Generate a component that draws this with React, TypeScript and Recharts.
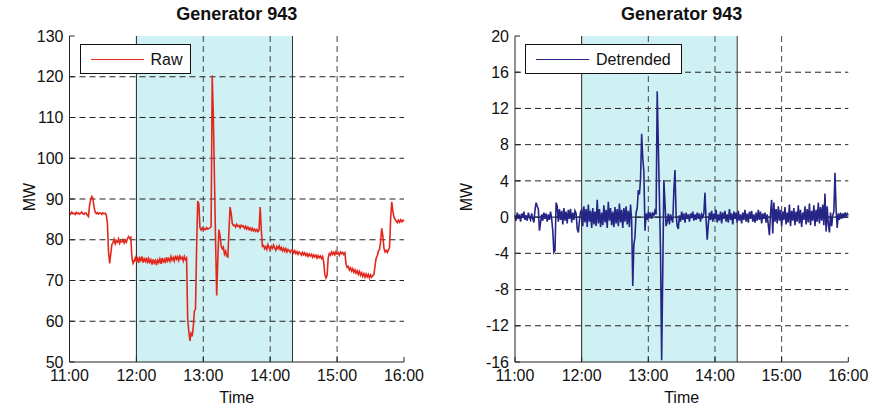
import React from 'react';
import { LineChart, Line, XAxis, YAxis, ReferenceArea, ReferenceLine } from 'recharts';

// minutes after 11:00, one sample per minute
const TIME_TICKS = [0, 60, 120, 180, 240, 300];
const RAW_TICKS = [50, 60, 70, 80, 90, 100, 110, 120, 130];
const DETRENDED_TICKS = [-16, -12, -8, -4, 0, 4, 8, 12, 16, 20];
const SHADE_START = 60; // 12:00
const SHADE_END = 200; // 14:20

const RAW_MW = [
  86.6, 86.3, 86.8, 86.4, 86.5, 86.2, 86.7, 86.4, 86.6, 86.3,
  86.5, 86.8, 86.4, 86.2, 86.6, 86.5, 86.0, 85.7, 88.5, 89.8,
  90.6, 90.2, 88.0, 86.8, 86.4, 86.7, 86.3, 86.6, 86.5, 86.2,
  86.6, 86.4, 86.5, 86.1, 84.0, 77.0, 74.2, 76.5, 78.8, 79.3,
  80.1, 79.0, 79.8, 79.4, 80.2, 79.1, 79.7, 79.5, 80.0, 79.2,
  79.9, 79.4, 80.3, 80.8, 80.4, 80.6, 75.5, 74.2, 74.8, 75.6,
  74.6, 75.8, 74.3, 75.5, 74.9, 75.9, 74.4, 75.3, 74.7, 75.6,
  74.2, 75.4, 74.5, 75.1, 73.9, 75.2, 74.3, 74.9, 73.8, 75.0,
  74.4, 75.3, 74.1, 75.5, 74.6, 75.2, 74.3, 75.7, 74.8, 75.4,
  74.7, 75.9, 75.0, 75.6, 74.8, 76.1, 75.2, 75.8, 74.9, 76.0,
  75.3, 75.7, 74.8, 75.9, 75.1, 75.5, 60.5, 57.5, 55.2, 57.0,
  56.3, 58.5, 62.5, 63.0, 78.0, 89.5, 88.8, 83.0, 82.4, 82.9,
  82.3, 82.7, 82.5, 83.0, 82.6, 82.8, 82.9, 83.2, 120.3, 110.5,
  95.0, 80.0, 66.3, 75.0, 82.5, 81.0, 78.5, 77.8, 78.2, 76.5,
  77.2, 76.0, 75.8, 82.0, 88.0, 86.5, 84.0, 83.5, 83.6, 83.1,
  83.8, 83.3, 83.5, 82.9, 83.6, 83.2, 83.4, 82.8, 83.3, 82.6,
  83.1, 82.5, 82.9, 82.3, 82.8, 82.2, 82.6, 82.1, 82.5, 82.0,
  82.4, 88.0, 82.5, 78.4, 78.6, 77.8, 78.3, 77.6, 78.8, 78.1,
  77.5, 78.4, 77.9, 78.7, 78.0, 77.4, 78.3, 77.8, 78.5, 77.6,
  78.1, 77.3, 77.9, 77.2, 77.8, 77.0, 77.6, 77.3, 76.9, 77.5,
  77.5, 76.8, 77.3, 76.6, 77.1, 76.4, 77.0, 76.7, 76.2, 76.9,
  76.3, 76.8, 76.1, 76.6, 75.9, 76.5, 76.0, 76.4, 75.7, 76.3,
  75.8, 76.2, 75.5, 76.1, 75.6, 76.0, 75.4, 75.9, 74.5, 71.5,
  70.6, 71.2, 75.5, 76.6, 76.2, 77.0, 76.4, 76.9, 76.3, 77.1,
  76.5, 76.8, 76.2, 77.0, 76.6, 76.9, 76.4, 76.8, 74.0, 73.2,
  73.5, 72.6, 73.1, 72.3, 72.9, 72.0, 72.6, 71.8, 72.4, 71.5,
  72.2, 71.3, 71.9, 71.0, 71.7, 70.8, 71.6, 70.9, 71.5, 70.6,
  71.4, 70.8, 71.2, 71.5, 73.5, 75.5, 76.0, 77.2, 77.6, 79.5,
  82.8, 81.0, 78.0, 77.0, 77.4, 76.9, 77.5, 78.0, 85.0, 89.3,
  87.0, 85.6, 85.0, 84.6, 84.2, 84.8, 84.3, 84.9, 84.4, 84.8,
  84.6,
];

const DETRENDED_MW = [
  0.2, -0.4, 0.5, -0.2, 0.3, -0.5, 0.4, -0.1, 0.6, -0.3,
  0.2, -0.4, 0.5, 0.0, -0.3, 0.4, -0.2, -0.6, 0.8, 1.6,
  1.2, 0.9, -1.5, -0.6, 0.3, -0.4, 0.5, -0.2, 0.4, -0.5,
  0.3, -0.3, 0.6, -0.2, -1.5, -3.9, -3.7, 1.6, 1.2, -0.5,
  0.9, -0.3, 0.7, -0.8, 1.0, -0.4, 0.6, -0.7, 0.8, -0.2,
  0.9, -0.6, 0.5, -0.3, 0.7, 0.4, -1.3, -1.7, -0.4, 0.6,
  0.8, -1.0, 1.2, -0.6, 0.9, -1.1, 1.4, -0.5, 0.7, -1.2,
  1.0, -0.8, 0.6, -1.0, 1.9, -0.7, 0.9, -1.1, 0.5, -0.9,
  1.3, -0.6, 0.8, -1.2, 1.7, -0.4, 1.0, -0.9, 0.6, -1.1,
  1.1, -0.7, 0.9, -1.0, 1.5, -0.6, 0.8, -1.2, 1.0, -0.5,
  1.2, -0.8, 0.7, -1.1, 1.4, -0.4, -7.6, -3.0, -2.2, 0.5,
  1.0, 3.0, 2.5, 4.2, 9.2, 6.5, 5.0, -1.5, 0.4, -0.3,
  0.6, 0.1, 0.5, -0.2, 0.4, 0.2, 0.7, 0.3, 13.9, 8.0,
  2.0, -4.0, -15.8, -6.0, 4.1, 1.5, -1.0, -0.5, 0.4, -0.8,
  0.3, -0.2, -0.6, 3.0, 5.2, 0.3, -1.0, -1.3, 0.2, -0.5,
  0.6, -0.3, 0.4, -0.6, 0.5, -0.2, 0.3, -0.5, 0.4, -0.1,
  0.6, -0.4, 0.3, -0.3, 0.5, -0.2, 0.4, -0.5, 0.3, 0.0,
  0.4, 2.7, -0.3, -2.5, -0.8, 0.5, -0.3, 0.7, -0.5, 0.4,
  -0.2, 0.8, -0.6, 0.3, -0.4, 0.6, -0.7, 0.5, -0.2, 0.7,
  -0.5, 0.3, -0.6, 0.9, -0.3, 0.4, -0.8, 0.6, -0.2, 0.5,
  -0.6, 0.7, -0.4, 0.3, -0.7, 0.5, -0.3, 0.8, -0.5, 0.4,
  -0.6, 0.6, -0.2, 0.7, -0.5, 0.3, -0.6, 0.5, -0.4, 0.8,
  -0.3, 0.6, -0.7, 0.4, -0.2, 0.5, -0.6, 0.3, -0.9, -2.0,
  0.4, 1.9, -1.8, 1.6, -0.5, 0.9, -0.7, 1.2, -0.4, 0.8,
  -1.0, 0.6, -0.3, 1.1, -0.8, 0.5, -0.6, 1.4, -1.0, 0.7,
  -0.4, 1.0, -0.9, 0.6, -0.5, 1.3, -0.7, 0.8, -1.1, 0.5,
  -0.3, 1.2, -0.8, 0.9, -0.6, 1.5, -0.9, 0.7, -0.4, 1.3,
  -1.0, 0.8, -0.5, 1.6, -0.7, 1.1, -0.4, 1.4, -0.9, 2.6,
  -1.6, 1.2, -0.8, -1.7, 0.5, -1.0, 0.2, 0.6, 4.9, 1.0,
  -1.2, 0.4, -0.3, 0.5, -0.2, 0.4, -0.1, 0.5, 0.1, 0.4,
  0.2,
];

const FONT = '"Liberation Sans", Arial, Helvetica, sans-serif';
const W = 438;
const H = 410;
const PLOT_TOP = 36;
const X_AXIS_H = 48;

const fmtTime = (t: number) => `${11 + t / 60}:00`;
const tickStyle = { fontSize: 16, fill: '#111', fontFamily: FONT };

type PanelProps = {
  left: number;
  values: number[];
  color: string;
  label: string;
  yTicks: number[];
  yAxisWidth: number;
  marginRight: number;
  legendWidth: number;
  zeroLine?: boolean;
};

function Panel({ left, values, color, label, yTicks, yAxisWidth, marginRight, legendWidth, zeroLine }: PanelProps) {
  const data = values.map((v, i) => ({ t: i, mw: v }));
  const yMin = yTicks[0];
  const yMax = yTicks[yTicks.length - 1];
  const plotLeft = left + yAxisWidth;
  const plotRight = left + W - marginRight;
  const cx = (plotLeft + plotRight) / 2;

  return (
    <>
      <div style={{ position: 'absolute', left, top: 0 }}>
        <LineChart width={W} height={H} data={data} margin={{ top: PLOT_TOP, right: marginRight, bottom: 0, left: 0 }}>
          <XAxis
            dataKey="t"
            type="number"
            domain={[0, 300]}
            ticks={TIME_TICKS}
            tickFormatter={fmtTime}
            height={X_AXIS_H}
            tick={tickStyle}
            tickSize={-5}
            tickMargin={13}
            axisLine={{ stroke: '#222' }}
            tickLine={{ stroke: '#222' }}
            interval={0}
          />
          <XAxis
            xAxisId="top"
            orientation="top"
            type="number"
            domain={[0, 300]}
            ticks={TIME_TICKS}
            tickFormatter={() => ''}
            height={0}
            tickSize={-5}
            axisLine={{ stroke: '#222' }}
            tickLine={{ stroke: '#222' }}
            interval={0}
          />
          <YAxis
            type="number"
            domain={[yMin, yMax]}
            ticks={yTicks}
            width={yAxisWidth}
            tick={tickStyle}
            tickSize={-5}
            tickMargin={11}
            axisLine={{ stroke: '#222' }}
            tickLine={{ stroke: '#222' }}
            interval={0}
            allowDataOverflow
          />
          <YAxis
            yAxisId="right"
            orientation="right"
            type="number"
            domain={[yMin, yMax]}
            ticks={yTicks}
            width={0}
            tickFormatter={() => ''}
            tickSize={-5}
            axisLine={{ stroke: '#222' }}
            tickLine={{ stroke: '#222' }}
            interval={0}
          />
          <ReferenceArea x1={SHADE_START} x2={SHADE_END} y1={yMin} y2={yMax} fill="#d0f1f3" fillOpacity={1} stroke="none" />
          {yTicks.slice(1, -1).map((v) => (
            <ReferenceLine key={'h' + v} y={v} stroke="#222" strokeDasharray="6 4" />
          ))}
          {TIME_TICKS.slice(2, -1).map((v) => (
            <ReferenceLine key={'v' + v} x={v} stroke="#444" strokeDasharray="6 4" />
          ))}
          <ReferenceLine x={SHADE_START} stroke="#222" />
          <ReferenceLine x={SHADE_END} stroke="#333" />
          {zeroLine && <ReferenceLine y={0} stroke="#111" />}
          <Line
            dataKey="mw"
            stroke={color}
            strokeWidth={1.6}
            dot={false}
            isAnimationActive={false}
            type="linear"
          />
        </LineChart>
      </div>

      <div style={{ position: 'absolute', left: 0, width: 2 * cx, top: 4, textAlign: 'center', font: `bold 18px/20px ${FONT}`, color: '#111' }}>
        Generator 943
      </div>
      <div style={{ position: 'absolute', left: 0, width: 2 * cx, top: 388, textAlign: 'center', font: `16px/20px ${FONT}`, color: '#111' }}>
        Time
      </div>
      <div
        style={{
          position: 'absolute',
          left: left + (left === 0 ? 30 : 29) - 30,
          top: 187,
          width: 60,
          textAlign: 'center',
          font: `16px/20px ${FONT}`,
          color: '#111',
          transform: 'rotate(-90deg)',
        }}
      >
        MW
      </div>
      <div
        style={{
          position: 'absolute',
          left: plotLeft + 10,
          top: 44,
          width: legendWidth,
          height: 30,
          boxSizing: 'border-box',
          border: '1px solid #111',
          background: '#fff',
        }}
      >
        <div style={{ position: 'absolute', left: 10, top: 13.5, width: 53, height: 1.3, background: color }} />
        <div style={{ position: 'absolute', left: 70, top: 6, font: `16px/18px ${FONT}`, color: '#111', whiteSpace: 'nowrap' }}>
          {label}
        </div>
      </div>
    </>
  );
}

export default function App() {
  return (
    <div style={{ position: 'absolute', left: 0, top: 0, width: 876, height: 410, background: '#fff' }}>
      <Panel
        left={0}
        values={RAW_MW}
        color="#e2281c"
        label="Raw"
        yTicks={RAW_TICKS}
        yAxisWidth={69.5}
        marginRight={34}
        legendWidth={111}
      />
      <Panel
        left={438}
        values={DETRENDED_MW}
        color="#252585"
        label="Detrended"
        yTicks={DETRENDED_TICKS}
        yAxisWidth={77}
        marginRight={27.7}
        legendWidth={157}
        zeroLine
      />
    </div>
  );
}
